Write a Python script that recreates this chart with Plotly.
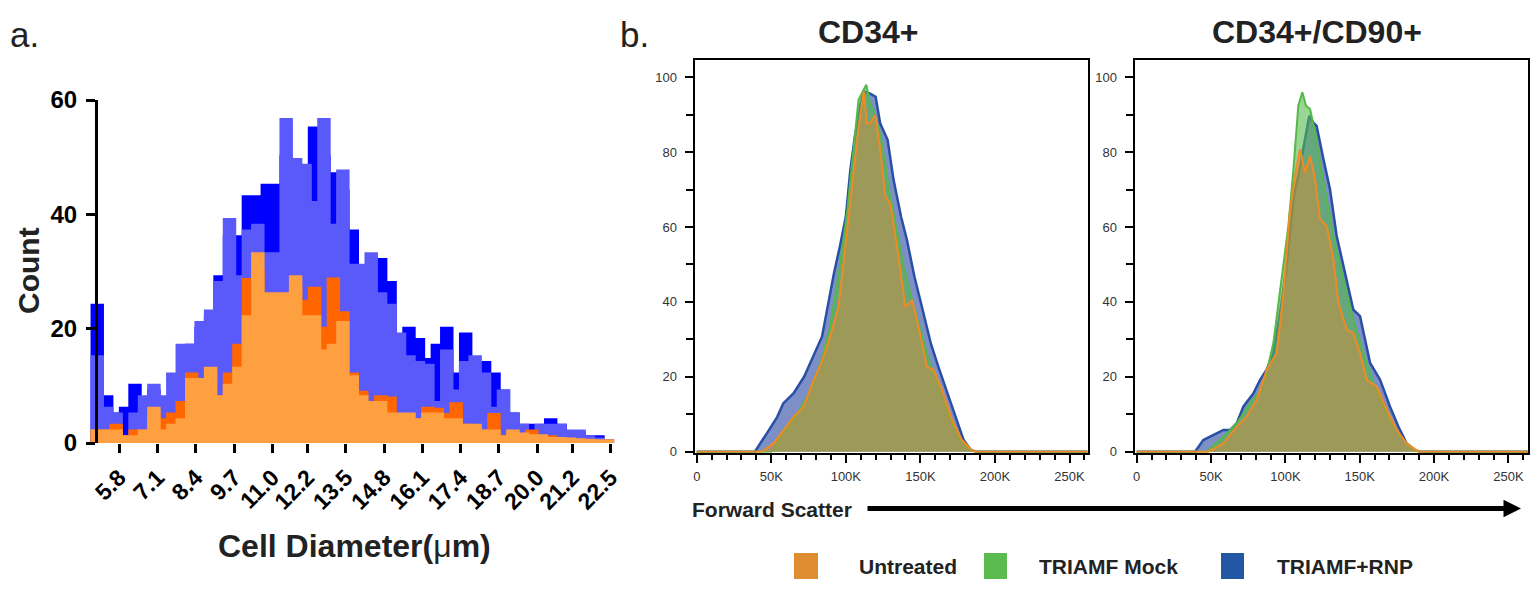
import numpy as np
import plotly.graph_objects as go

W, H = 1534, 592
FONT = "Liberation Sans, Arial, Helvetica, sans-serif"

# ---------------- Panel a data: cell diameter histogram ----------------
bin_start_um = 4.89
bin_width_um = 0.321
n_bins = 55
tick_labels_a = ["5.8", "7.1", "8.4", "9.7", "11.0", "12.2", "13.5", "14.8",
                 "16.1", "17.4", "18.7", "20.0", "21.2", "22.5"]

count_dark_blue = [24, 8, 5, 6, 10, 7, 9, 4, 5, 7, 17, 20, 22, 29, 36, 36, 43, 43, 45, 45,
                   50, 46, 45, 55, 50, 47, 44, 37, 30, 30, 32, 28, 18, 20, 18, 14.5, 17, 20, 12, 19,
                   14, 14, 12, 9, 5, 3, 3, 3, 4, 3, 1.7, 1.7, 1, 1, 0.3]
count_light_blue = [15, 6, 5, 1, 5, 8, 10, 8, 12, 17, 17, 21, 23, 28, 39, 29, 37, 38, 33, 33,
                    56.5, 49.5, 48.5, 42, 56.5, 38, 47.5, 31, 31, 33, 26, 24, 19, 15, 14, 13.5, 7, 16, 9, 14,
                    15, 12, 6, 9, 5, 3, 1.5, 3, 3, 3, 2, 2, 1, 0.6, 0.3]
count_dark_orange = [2, 2, 3, 1, 2, 2, 5, 4, 5, 7, 12, 10, 12, 8, 12, 17, 28.5, 30, 24, 24,
                     25, 27, 24.7, 27, 20, 28.6, 22.7, 12, 8.8, 6, 8, 7.8, 4, 4, 4, 6, 5.8, 4.9, 6.8, 3,
                     2.5, 2, 4.9, 1, 1.5, 1, 2, 1, 1, 0.5, 0.5, 0.3, 0.3, 0.2, 0.2]
count_light_orange = [2, 2, 2, 1, 1, 2, 6, 2, 3, 4, 11, 11, 13, 8, 10, 13, 22, 33, 26, 26,
                      26, 29, 22, 22, 16, 17, 21, 11.5, 8, 7, 7, 5, 5, 5, 4, 5, 5, 4, 4, 3,
                      3, 2, 2, 1, 2, 1.5, 1.2, 1.2, 0.7, 0.7, 0.6, 0.5, 0.4, 0.3, 0.3]

# ---------------- Panel b data: forward scatter histograms (x in K) ----------------
cd34_rnp_x = [0, 39, 47, 54, 58, 65, 72, 78, 84, 87, 92, 96, 100, 103, 106, 110, 112, 116, 120, 123,
              128, 132, 137, 141, 146, 151, 157, 162, 168, 174, 179, 184, 188, 262]
cd34_rnp_y = [0, 0, 4.9, 9.3, 12.9, 15.6, 20, 25.4, 30.7, 37, 47.6, 54.8, 62.8, 75.2, 84.1, 93, 96.2, 95.7, 94.8, 87.7,
              83.3, 72.6, 62.8, 56.5, 46.7, 38.7, 28.9, 22.7, 15.6, 8.5, 3.1, 0.4, 0, 0]
cd34_mock_x = [0, 50, 56, 65, 74, 83, 89.5, 96, 101, 105, 108.5, 113.7, 116.4, 118.6, 123.5, 129.4,
               133.8, 138.8, 143.2, 148.8, 155.6, 161.8, 170.1, 176.8, 183.5, 187, 262]
cd34_mock_y = [0, 0, 4, 8.5, 14.7, 23.5, 33.4, 49.4, 64.6, 79.7, 94, 98, 93, 91, 84, 69,
               60, 49.4, 42.3, 34.3, 24.5, 17.4, 8.5, 3.1, 0.4, 0, 0]
cd34_untr_x = [0, 43.6, 51.5, 58.2, 65, 71.6, 78.3, 83.9, 89.5, 95.1, 99.6, 104.1, 108.6, 112, 114.1, 116.4,
               119.7, 123.1, 126.5, 129.8, 134.3, 139.9, 144.4, 147.7, 154.4, 158.9, 164.5, 171.2, 177.9,
               184.6, 188, 262]
cd34_untr_y = [0, 0, 2.2, 5.8, 9.3, 12, 19, 24, 30.7, 38.7, 54.8, 70.8, 86.8, 96.2, 87.7, 87.7,
               89.9, 80.6, 68.1, 66.3, 54.8, 38.7, 40.5, 35.2, 22.7, 21.8, 16.5, 8.5, 3.1,
               0.4, 0, 0]

cd90_rnp_x = [0, 39.2, 44.8, 49.3, 53.8, 58.3, 62.8, 67.3, 71.7, 78.5, 83, 87.4, 91.9, 96.4, 100.9, 105.4,
              109.9, 113.2, 116.1, 118.8, 121, 125.6, 130, 134.5, 139, 145.7, 150.2, 157, 163.7, 170.4,
              176, 181.6, 187.2, 190.6, 263]
cd90_rnp_y = [0, 0, 3.1, 4, 4.9, 5.8, 5.8, 7.6, 12, 15.6, 19.2, 21.9, 26.3, 37, 49.6, 67.4,
              76.3, 83.5, 89.7, 87.9, 87, 78.1, 70.1, 57.6, 49.6, 37.9, 36.2, 23.7, 19.2, 12,
              6.7, 2.2, 0.4, 0, 0]
cd90_mock_x = [0, 47, 58.3, 67.3, 76.2, 85.2, 91.9, 97.5, 102, 105.4, 108.7, 111.4, 113.9, 116.6, 120,
               123.3, 127.8, 132.3, 139, 145.7, 152.5, 159.2, 165.9, 172.6, 179.4, 186, 190.6, 263]
cd90_mock_y = [0, 0, 4, 7.6, 12.9, 17.4, 29, 46.9, 60.3, 75.4, 92.4, 96, 92.4, 91.5, 85.3,
               77.2, 67.4, 57.6, 46, 35.3, 26.3, 18.3, 12, 6.7, 3.1, 0.4, 0, 0]
cd90_untr_x = [0, 48.2, 58.3, 67.3, 74, 80.7, 87.4, 94.2, 98.7, 103.1, 107.6, 109.9, 113.2, 116.6, 120,
               123.3, 127.8, 132.3, 135.7, 141.3, 145.7, 150.2, 154.7, 161.4, 168.2, 174.9, 181.6, 189.5, 263]
cd90_untr_y = [0, 0, 2.2, 6.7, 9.4, 13.8, 21.9, 26.3, 42.4, 64.7, 76.3, 80.8, 74.6, 79, 72.8,
               62.1, 60.3, 51.3, 39.7, 32.6, 31.7, 26.3, 19.2, 17.4, 11.2, 5.8, 2.2, 0, 0]

fsc_tick_vals = [0, 50, 100, 150, 200, 250]
fsc_tick_text = ["0", "50K", "100K", "150K", "200K", "250K"]
legend_names = ["Untreated", "TRIAMF Mock", "TRIAMF+RNP"]


def X(px):
    return px / W


def Y(py):
    return 1 - py / H


fig = go.Figure()

# ---------- panel a ----------
edges = np.round(bin_start_um + bin_width_um * np.arange(n_bins + 1), 4)


def step_trace(vals, color):
    xs = [edges[0]] + list(edges) + [edges[-1]]
    ys = [0] + list(vals) + [vals[-1], 0]
    return go.Scatter(x=xs, y=ys, mode="lines", line=dict(shape="hv", color=color, width=4),
                      fill="tozeroy", fillcolor=color, xaxis="x", yaxis="y",
                      hoverinfo="skip", showlegend=False)


fig.add_trace(step_trace(count_dark_blue, "#0000FF"))
fig.add_trace(step_trace(count_light_blue, "#5A5AFA"))
fig.add_trace(step_trace(count_dark_orange, "#FF6600"))
fig.add_trace(step_trace(count_light_orange, "#FFA040"))

# ---------- panel b ----------
BLUE_L, BLUE_F = "#2A50A6", "rgba(45,75,165,0.62)"
GREEN_L, GREEN_F = "#55B848", "rgba(85,185,75,0.6)"
ORANGE_L, ORANGE_F = "#F08A25", "rgba(235,135,40,0.42)"


def flow(xs, ys, lc, fc, ax, lw=2):
    return go.Scatter(x=xs, y=ys, mode="lines", line=dict(color=lc, width=lw),
                      fill="tozeroy", fillcolor=fc, xaxis=ax[0], yaxis=ax[1],
                      hoverinfo="skip", showlegend=False)


fig.add_trace(flow(cd34_rnp_x, cd34_rnp_y, BLUE_L, BLUE_F, ("x2", "y2"), 2.5))
fig.add_trace(flow(cd34_mock_x, cd34_mock_y, GREEN_L, GREEN_F, ("x2", "y2")))
fig.add_trace(flow(cd34_untr_x, cd34_untr_y, ORANGE_L, ORANGE_F, ("x2", "y2")))
fig.add_trace(flow(cd90_rnp_x, cd90_rnp_y, BLUE_L, BLUE_F, ("x3", "y3"), 2.5))
fig.add_trace(flow(cd90_mock_x, cd90_mock_y, GREEN_L, GREEN_F, ("x3", "y3")))
fig.add_trace(flow(cd90_untr_x, cd90_untr_y, ORANGE_L, ORANGE_F, ("x3", "y3")))

small_font = dict(family=FONT, size=13, color="#333333")

flow_x = dict(range=[-1.5, 262.6], tickmode="array", tickvals=fsc_tick_vals, ticktext=fsc_tick_text,
              ticks="outside", ticklen=8, tickwidth=2, tickcolor="black", automargin=False,
              showline=True, linecolor="black", linewidth=2, mirror=True,
              showgrid=False, zeroline=False, tickfont=small_font, ticklabelstandoff=3,
              minor=dict(dtick=10, ticks="outside", ticklen=5, tickwidth=1.5, tickcolor="black"))
flow_y = dict(range=[-0.3, 104.6], tickmode="array", tickvals=[0, 20, 40, 60, 80, 100],
              ticks="outside", ticklen=8, tickwidth=2, tickcolor="black", automargin=False,
              showline=True, linecolor="black", linewidth=2, mirror=True,
              showgrid=False, zeroline=False, tickfont=small_font, ticklabelstandoff=5,
              minor=dict(dtick=10, ticks="outside", ticklen=7, tickwidth=2, tickcolor="black"))

fig.update_layout(
    width=W, height=H, margin=dict(l=0, r=0, t=0, b=0, pad=0, autoexpand=False),
    paper_bgcolor="white", plot_bgcolor="white", showlegend=False,
    xaxis=dict(domain=[X(89), X(620)], range=[4.7705, 22.8135], anchor="y", automargin=False,
               tickmode="array", tickvals=[float(t) for t in tick_labels_a], ticktext=tick_labels_a,
               tickangle=-45, ticks="outside", ticklen=9, tickwidth=3, tickcolor="black",
               showline=False, showgrid=False, zeroline=False, ticklabelstandoff=2,
               tickfont=dict(family=FONT, size=23, color="black", weight="bold")),
    yaxis=dict(domain=[Y(443), Y(100)], range=[0, 60], anchor="free", position=X(96), automargin=False,
               tickmode="array", tickvals=[0, 20, 40, 60], ticks="outside", ticklen=9, tickwidth=3,
               tickcolor="black", showline=True, linecolor="black", linewidth=3,
               showgrid=False, zeroline=False, ticklabelstandoff=4,
               tickfont=dict(family=FONT, size=24, color="black", weight="bold")),
    xaxis2=dict(domain=[X(694.5), X(1088.3)], anchor="y2", **flow_x),
    yaxis2=dict(domain=[Y(452.8), Y(60)], anchor="x2", **flow_y),
    xaxis3=dict(domain=[X(1134.5), X(1528.3)], anchor="y3", **{**flow_x, "range": [-1.5, 263.4]}),
    yaxis3=dict(domain=[Y(452.8), Y(60)], anchor="x3", **flow_y),
)

ann = []


def text(t, px, py, size, bold=True, xanchor="center", angle=0, color="black"):
    ann.append(dict(text=t, x=X(px), y=Y(py), xref="paper", yref="paper", showarrow=False,
                    xanchor=xanchor, yanchor="middle", textangle=angle,
                    font=dict(family=FONT, size=size, color=color, weight="bold" if bold else "normal")))


text("a.", 8, 34, 35, bold=False, xanchor="left", color="#222222")
text("b.", 618, 34, 35, bold=False, xanchor="left", color="#222222")
text("Count", 28, 270, 30, angle=-90, color="#222222")
text("<b>Cell Diameter(</b>μ<b>m)</b>", 354, 546, 32, bold=False, color="#222222")
text("CD34+", 868, 32, 32, color="#222222")
text("CD34+/CD90+", 1317, 32, 32, color="#222222")
text("Forward Scatter", 690, 509, 21, xanchor="left", color="#222222")

legend_colors = ["#E08C30", "#5BBB4F", "#2456A6"]
legend_sq = [(794, 818), (984, 1007), (1221, 1244)]
legend_tx = [857, 1037, 1275]
shapes = []
for name, col, (x0, x1), tx in zip(legend_names, legend_colors, legend_sq, legend_tx):
    shapes.append(dict(type="rect", xref="paper", yref="paper", x0=X(x0), x1=X(x1), y0=Y(579), y1=Y(553),
                       fillcolor=col, line=dict(width=0)))
    text(name, tx, 566, 21, xanchor="left", color="#222222")

# arrow for forward scatter
ann.append(dict(x=X(1521), y=Y(508.5), xref="paper", yref="paper", ax=-655, ay=0,
                showarrow=True, arrowhead=2, arrowsize=0.7, arrowwidth=5, arrowcolor="black", text=""))

fig.update_layout(annotations=ann, shapes=shapes)
fig.write_html("out.html")
